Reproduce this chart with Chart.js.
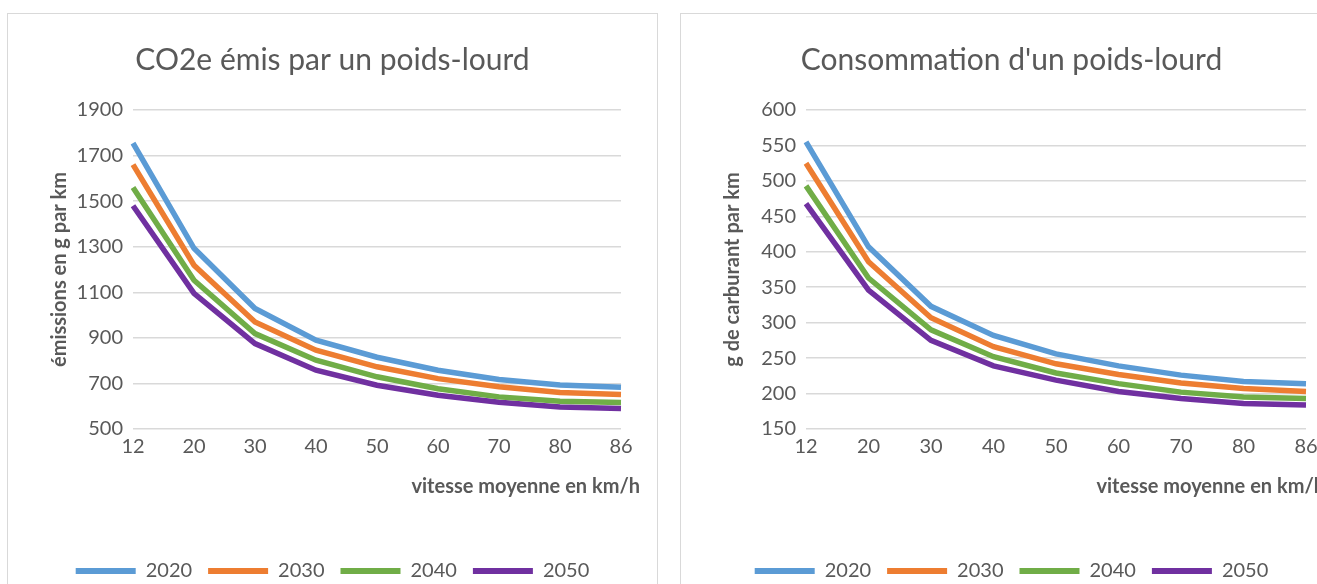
<!DOCTYPE html>
<html>
<head>
<meta charset="utf-8">
<script src="https://cdn.jsdelivr.net/npm/chart.js@4"></script>
<style>
	html, body { margin: 0; padding: 0; background: #fff; overflow: hidden; width: 1317px; height: 584px; }
	.box { position: absolute; top: 13px; width: 649px; height: 600px; border: 1px solid #d9d9d9; background: #fff; }
	#boxLeft { left: 7px; }
	#boxRight { left: 680px; }
</style>
</head>
<body>
<div class="box" id="boxLeft"><canvas id="co2Chart" width="649" height="600"></canvas></div>
<div class="box" id="boxRight"><canvas id="fuelChart" width="649" height="600"></canvas></div>
<script>
const speeds = ['12', '20', '30', '40', '50', '60', '70', '80', '86'];
const years = ['2020', '2030', '2040', '2050'];
const colors = ['#5b9bd5', '#ed7d31', '#70ad47', '#7030a0'];

// g CO2e / km
const co2_2020 = [1755, 1293, 1029, 890, 815, 758, 717, 693, 683];
const co2_2030 = [1660, 1219, 970, 846, 773, 721, 685, 660, 651];
const co2_2040 = [1560, 1153, 919, 802, 729, 677, 641, 622, 616];
const co2_2050 = [1480, 1095, 875, 758, 692, 648, 617, 597, 590];

// g de carburant / km
const fuel_2020 = [555, 407, 323, 282, 256, 239, 226, 217, 214];
const fuel_2030 = [525, 386, 307, 266, 242, 227, 215, 207, 203];
const fuel_2040 = [493, 363, 290, 252, 229, 214, 202, 195, 193];
const fuel_2050 = [468, 346, 275, 239, 219, 203, 193, 186, 184];

const textColor = '#595959';
const fontName = 'Lato, "Open Sans", sans-serif';
const xTitle = 'vitesse moyenne en km/h';

// x axis title sits past the right end of the plot, like in Excel
const xTitlePlugin = {
	id: 'xTitle',
	afterDraw: function(chart) {
		const x = chart.scales.x;
		const ctx = chart.ctx;
		ctx.save();
		ctx.font = 'bold 20px ' + fontName;
		ctx.fillStyle = textColor;
		ctx.textAlign = 'right';
		ctx.textBaseline = 'middle';
		ctx.fillText(xTitle, x.right + 19, x.top + 58);
		ctx.restore();
	}
};

const createChart = function(ctx, title, yLabel, series, yMin, yMax, yStep, padRight) {
	const datasets = series.map(function(values, i) {
		return {
			label: years[i],
			data: values,
			borderColor: colors[i],
			backgroundColor: colors[i],
			borderWidth: 5.5,
			pointRadius: 0,
			tension: 0
		};
	});

	return new Chart(ctx, {
		type: 'line',
		data: {
			labels: speeds,
			datasets: datasets
		},
		plugins: [xTitlePlugin],
		options: {
			responsive: false,
			animation: false,
			layout: { padding: { left: 36, right: padRight, bottom: 23 } },
			plugins: {
				title: {
					display: true,
					text: title,
					color: textColor,
					font: { family: fontName, size: 30, weight: 'normal' },
					padding: { top: 28, bottom: 32 }
				},
				legend: {
					position: 'bottom',
					labels: {
						boxWidth: 60,
						boxHeight: 6,
						padding: 16,
						color: textColor,
						font: { family: fontName, size: 20 },
						generateLabels: function(chart) {
							return chart.data.datasets.map(function(ds, i) {
								return {
									text: ds.label,
									fillStyle: ds.borderColor,
									strokeStyle: ds.borderColor,
									lineWidth: 0,
									hidden: false,
									datasetIndex: i,
									fontColor: textColor
								};
							});
						}
					}
				},
				tooltip: { enabled: false }
			},
			scales: {
				x: {
					offset: false,
					grid: { display: false, drawTicks: false },
					border: { display: false },
					ticks: {
						color: textColor,
						padding: 6,
						maxRotation: 0,
						autoSkip: false,
						font: { family: fontName, size: 20 }
					},
					afterFit: function(scale) { scale.height = 116; }
				},
				y: {
					min: yMin,
					max: yMax,
					border: { display: false },
					grid: { color: '#d9d9d9', lineWidth: 1.5, drawTicks: false },
					ticks: {
						stepSize: yStep,
						color: textColor,
						padding: 10,
						font: { family: fontName, size: 20 },
						callback: function(value) { return String(value); }
					},
					title: {
						display: true,
						text: yLabel,
						color: textColor,
						font: { family: fontName, size: 20, weight: 'bold' }
					},
					afterFit: function(scale) { scale.width = 89; }
				}
			}
		}
	});
};

createChart(
	document.getElementById('co2Chart'),
	'CO2e émis par un poids-lourd',
	'émissions en g par km',
	[co2_2020, co2_2030, co2_2040, co2_2050],
	500, 1900, 200,
	36
);

createChart(
	document.getElementById('fuelChart'),
	"Consommation d'un poids-lourd",
	'g de carburant par km',
	[fuel_2020, fuel_2030, fuel_2040, fuel_2050],
	150, 600, 50,
	24
);
</script>
</body>
</html>
